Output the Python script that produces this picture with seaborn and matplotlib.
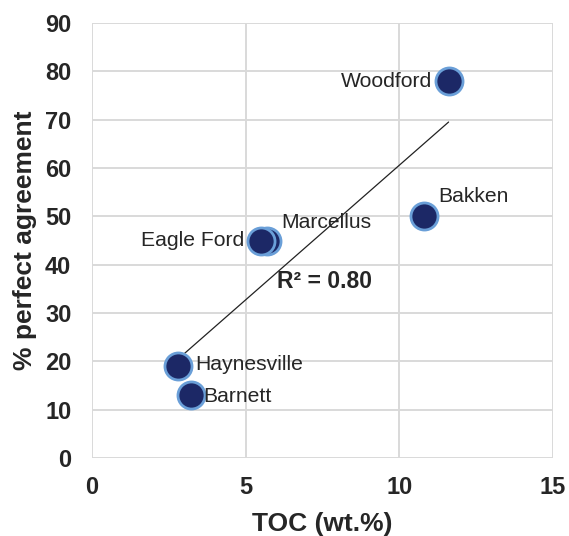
import matplotlib
matplotlib.use("Agg")
import matplotlib.pyplot as plt
import seaborn as sns
import pandas as pd
import numpy as np

# Data
formations = ["Woodford", "Bakken", "Marcellus", "Eagle Ford", "Haynesville", "Barnett"]
toc = [11.6, 10.8, 5.7, 5.5, 2.8, 3.2]
agreement = [78, 50, 45, 45, 19, 13]
x_ticks = [0, 5, 10, 15]
y_ticks = [0, 10, 20, 30, 40, 50, 60, 70, 80, 90]
r2_label = "R² = 0.80"

df = pd.DataFrame({"formation": formations, "toc": toc, "agreement": agreement})

sns.set_style("whitegrid")
plt.rcParams["font.family"] = ["Liberation Sans", "DejaVu Sans"]

fig = plt.figure(figsize=(5.69, 5.36), dpi=100)
ax = fig.add_axes([0.162, 0.1455, 0.810, 0.8115])

sns.regplot(data=df, x="toc", y="agreement", ax=ax, scatter=False, ci=None,
            truncate=True, line_kws=dict(color="#222222", linewidth=0.9))
sns.scatterplot(data=df, x="toc", y="agreement", ax=ax, s=380,
                color="#1C2866", edgecolor="#6A9FD8", linewidth=2.0, zorder=3)

ax.set_xlim(0, 15)
ax.set_ylim(0, 90)
ax.set_xticks(x_ticks)
ax.set_yticks(y_ticks)
ax.grid(True, color="#D9D9D9", linewidth=1.4)
for s in ax.spines.values():
    s.set_visible(False)
ax.tick_params(axis="both", length=0, labelsize=17, colors="#262626")
ax.tick_params(axis="x", pad=13)
ax.tick_params(axis="y", pad=15)
for lab in ax.get_xticklabels() + ax.get_yticklabels():
    lab.set_fontweight("bold")

ax.set_xlabel("TOC (wt.%)", fontsize=19, fontweight="bold", color="#262626", labelpad=9)
ax.set_ylabel("% perfect agreement", fontsize=19, fontweight="bold", color="#262626", labelpad=6)

offsets = {
    "Woodford": (-12, 0, "right", "center"),
    "Bakken": (10, 14, "left", "center"),
    "Marcellus": (10, 13, "left", "center"),
    "Eagle Ford": (-12, 0, "right", "center"),
    "Haynesville": (12, 1, "left", "center"),
    "Barnett": (9, -1, "left", "center"),
}
for f, xv, yv in zip(formations, toc, agreement):
    dx, dy, ha, va = offsets[f]
    ax.annotate(f, (xv, yv), xytext=(dx, dy), textcoords="offset points",
                ha=ha, va=va, fontsize=15.2, color="#262626", zorder=4)

ax.text(6.0, 36.5, r2_label, fontsize=16.5, fontweight="bold", color="#262626",
        ha="left", va="center")

fig.savefig("out.png", dpi=100)
